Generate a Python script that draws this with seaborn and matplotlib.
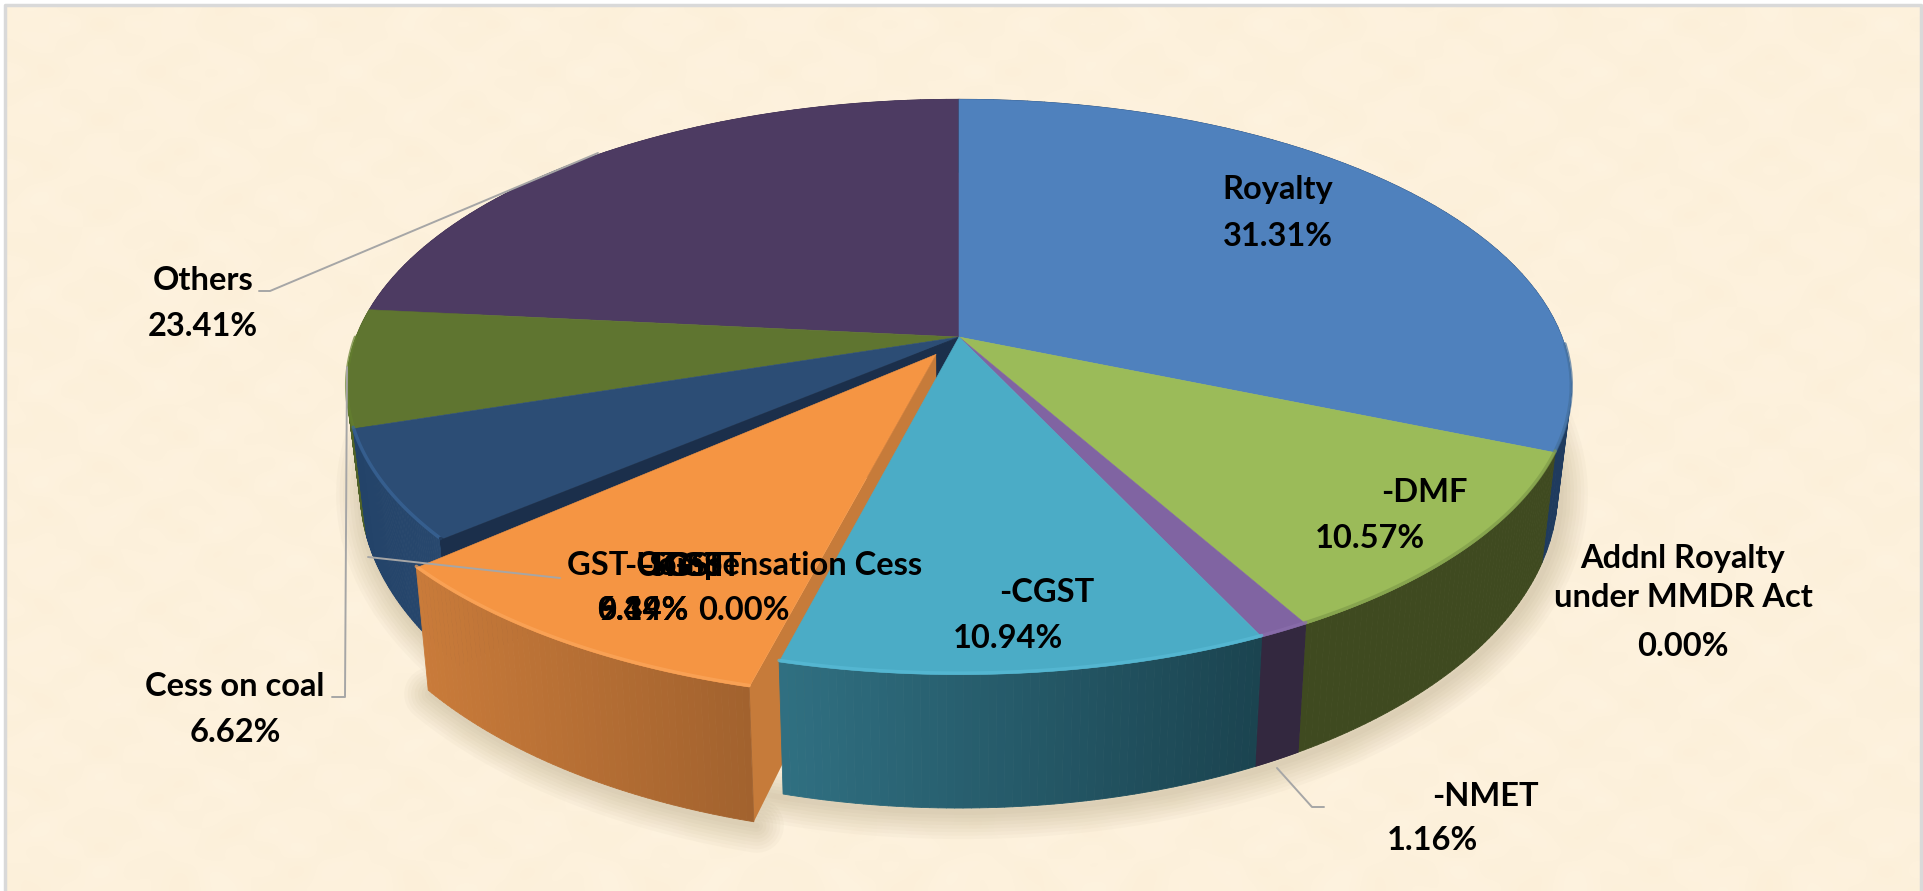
import numpy as np
import matplotlib
matplotlib.use('Agg')
import matplotlib.pyplot as plt
from matplotlib.collections import PolyCollection
from matplotlib.colors import to_rgb
import seaborn as sns

# slices run clockwise from 12 o'clock
categories = ['Royalty', 'Addnl Royalty\nunder MMDR Act', '-DMF', '-NMET', '-CGST', '-SGST',
              '-UTGST', '-IGST', 'GST Compensation Cess', 'Cess on coal', 'Others']
shares = [31.31, 0.00, 10.57, 1.16, 10.94, 9.49, 0.34, 6.14, 0.00, 6.62, 23.41]

top_colors = ['#4F81BD', '#1F497D', '#9BBB59', '#8064A2', '#4BACC6', '#F59543',
              '#1B2F4B', '#2C4D75', '#772C2A', '#5F7530', '#4D3B62']
side_left = ['#1F3B5E', '#1F3B5E', '#3F4A20', '#33283F', '#307082', '#C97B3A',
             '#1B2F4B', '#234369', '#772C2A', '#4F6228', '#3A2C4A']
side_right = ['#1F3B5E', '#1F3B5E', '#3F4A20', '#33283F', '#1B4450', '#A2622E',
              '#1B2F4B', '#28486E', '#772C2A', '#4F6228', '#3A2C4A']
rim_colors = ['#44709F', '#1F497D', '#7F9C4A', '#8A6EAC', '#58BBD6', '#FCA75C',
              '#1B2F4B', '#3A669A', '#772C2A', '#64802F', '#4D3B62']
explode = [0, 0, 0, 0, 0, 0.072, 0, 0, 0, 0, 0]

# label anchors in pixels: (name x, name y, value x, value y)
label_pos = {
    'Royalty': (1278, 190, 1278, 237),
    'Addnl Royalty\nunder MMDR Act': (1683, 578, 1683, 646),
    '-DMF': (1424, 493, 1370, 538),
    '-NMET': (1485, 796, 1432, 841),
    '-CGST': (1047, 592, 1008, 638),
    '-SGST': (683, 566, 643, 610),
    '-UTGST': (683, 566, 643, 610),
    '-IGST': (683, 566, 643, 610),
    'GST Compensation Cess': (745, 566, 744, 610),
    'Cess on coal': (235, 686, 235, 732),
    'Others': (203, 281, 203, 326),
}
leaders = [
    ([598, 270, 259], [153, 291, 291]),
    ([347, 345, 332], [367, 697, 697]),
    ([1277, 1312, 1324], [768, 807, 807]),
    ([368, 560], [557, 578]),
]

# perspective of the pie
CX, CY = 959, 337
A, B, K = 603, 279, 0.1736
DROP, SX, SY = 98, 0.978, 1.105


def project(X, Y, lower=False):
    w = 1 - K * Y
    x = A * X / w
    y = B * Y / w
    if lower:
        x = x * SX
        y = y * SY + DROP
    return CX + x, CY + y


def rim(a0, a1, off, n=60):
    t = np.linspace(a0, a1, n)
    return np.sin(t) + off[0], -np.cos(t) + off[1]


def draw_side(ax, i, z):
    X, Y = rim(starts[i], ends[i], offsets[i])
    x0, y0 = project(X, Y)
    x1, y1 = project(X, Y, lower=True)
    polys, cols = [], []
    c0, c1 = np.array(to_rgb(side_left[i])), np.array(to_rgb(side_right[i]))
    for j in range(len(X) - 1):
        polys.append([(x0[j], y0[j]), (x0[j + 1], y0[j + 1]), (x1[j + 1], y1[j + 1]), (x1[j], y1[j])])
        f = (x0[j] - x0.min()) / max(x0.max() - x0.min(), 1)
        cols.append(c0 + (c1 - c0) * f)
    ax.add_collection(PolyCollection(polys, facecolors=cols, edgecolors=cols, linewidths=0.6, zorder=z))


def draw_wall(ax, angle, off, color, z):
    ax_x, ax_y = project(off[0], off[1])
    bx_x, bx_y = project(off[0], off[1], lower=True)
    rX, rY = np.sin(angle) + off[0], -np.cos(angle) + off[1]
    r_x, r_y = project(rX, rY)
    s_x, s_y = project(rX, rY, lower=True)
    ax.fill([ax_x, r_x, s_x, bx_x], [ax_y, r_y, s_y, bx_y], color=color, lw=0, zorder=z)


def draw_top(ax, i, z):
    X, Y = rim(starts[i], ends[i], offsets[i])
    ox, oy = project(offsets[i][0], offsets[i][1])
    x, y = project(X, Y)
    ax.fill(np.r_[ox, x], np.r_[oy, y], color=top_colors[i], lw=0.4, zorder=z)
    front = Y > 0
    if front.any():
        ax.plot(x[front], y[front] - 1.5, color=rim_colors[i], lw=2.5, alpha=0.7,
                solid_capstyle='round', zorder=z + 0.1)


values = np.array(shares)
cum = np.cumsum(values) / values.sum() * 2 * np.pi
starts = np.r_[0, cum[:-1]]
ends = cum
mids = (starts + ends) / 2
offsets = [(e * np.sin(m), -e * np.cos(m)) for e, m in zip(explode, mids)]

sns.set_theme(style='white')
plt.rcParams['font.family'] = ['Lato', 'DejaVu Sans']

fig = plt.figure(figsize=(19.23, 8.91), dpi=100, facecolor='white')
ax = fig.add_axes([0, 0, 1, 1])
ax.set_xlim(0, 1923)
ax.set_ylim(891, 0)
ax.axis('off')

# parchment background, built from sines
gx, gy = np.meshgrid(np.linspace(0, 1, 160), np.linspace(0, 1, 74))
mottle = (np.sin(gx * 97) * np.sin(gy * 61 + 0.7) + np.sin(gx * 211 + 1.3) * np.sin(gy * 113)
          + np.sin(gx * 151 + 0.4) * np.sin(gy * 173 + 2.1)) / 3
bg = np.dstack([(253 + 1 * mottle) / 255, (241 + 3 * mottle) / 255, (220 + 6 * mottle) / 255])
ax.imshow(np.clip(bg, 0, 1), extent=(6, 1921, 891, 6), aspect='auto', interpolation='bicubic', zorder=0)
ax.set_xlim(0, 1923)
ax.set_ylim(891, 0)
ax.plot([5, 5, 1921, 1921], [891, 5, 5, 891], color='#D9D9D9', lw=2.5, zorder=0.5)

# soft shadow below the pie and the pulled out slice
tt = np.linspace(0, 2 * np.pi, 240)
sx, sy = project(np.sin(tt), -np.cos(tt), lower=True)
k_exp = int(np.argmax(explode))
ex, ey = rim(starts[k_exp], ends[k_exp], offsets[k_exp])
sx2, sy2 = project(ex, ey, lower=True)
for lw in range(4, 44, 5):
    ax.plot(sx + 3, sy + 4, color='#8A7A50', lw=lw, alpha=0.035, zorder=1, solid_joinstyle='round')
    ax.plot(sx2 + 3, sy2 + 4, color='#8A7A50', lw=lw, alpha=0.035, zorder=1, solid_capstyle='round')

left_group = [10, 9, 7, 6]
right_group = [0, 2, 3, 4]

z = 2
for i in left_group:
    draw_side(ax, i, z)
draw_wall(ax, ends[6], (0, 0), '#1B2F4B', z + 0.1)
draw_wall(ax, starts[6], (0, 0), '#1B2F4B', z + 0.1)
for i in left_group:
    draw_top(ax, i, z + 0.2)

# pulled out slice goes over its left neighbours, under the cyan one
draw_wall(ax, starts[k_exp], offsets[k_exp], '#C67B3A', 3)
draw_side(ax, k_exp, 3.1)
draw_top(ax, k_exp, 3.2)

for i in right_group:
    draw_side(ax, i, 4)
for i in right_group:
    draw_top(ax, i, 4.2)

for xs, ys in leaders:
    ax.plot(xs, ys, color='#A6A6A6', lw=1.4, zorder=6)

for name, share in zip(categories, shares):
    nx, ny, vx, vy = label_pos[name]
    ax.text(nx, ny, name, ha='center', va='center', fontsize=23.5, fontweight='bold',
            color='black', linespacing=1.45, zorder=7)
    ax.text(vx, vy, f'{share:.2f}%', ha='center', va='center', fontsize=23.5, fontweight='bold',
            color='black', zorder=7)

fig.savefig('out.png', dpi=100)
